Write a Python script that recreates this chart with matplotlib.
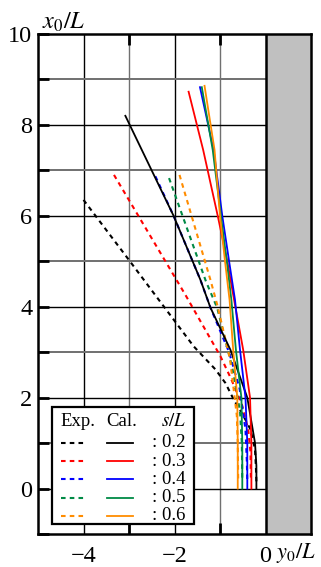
import matplotlib
matplotlib.use("Agg")
import matplotlib.pyplot as plt
from matplotlib.patches import Rectangle

plt.rcParams['font.family'] = ['Liberation Serif', 'DejaVu Serif']
plt.rcParams['mathtext.fontset'] = 'stix'

# ---------------- data ----------------
s_values = [0.2, 0.3, 0.4, 0.5, 0.6]
colors = ['#000000', '#ff0000', '#0000ff', '#008a45', '#ff8c00']

# Experimental (dashed) paths  (y0/L, x0/L)
exp_y02 = [-4.00, -2.98, -1.58, -1.10, -0.88, -0.70, -0.48, -0.33, -0.23, -0.21, -0.20]
exp_x02 = [6.35, 5.00, 3.13, 2.62, 2.32, 1.96, 1.59, 1.30, 0.86, 0.45, 0.15]
exp_y03 = [-3.33, -1.76, -0.99, -0.75, -0.52, -0.38, -0.33, -0.32]
exp_x03 = [6.90, 4.26, 2.91, 2.40, 1.85, 1.30, 0.80, 0.15]
exp_y04 = [-2.42, -2.02, -1.43, -1.21, -0.80, -0.57, -0.44, -0.41, -0.40]
exp_x04 = [6.87, 6.00, 4.59, 3.98, 3.00, 2.20, 1.30, 0.60, 0.15]
exp_y05 = [-2.12, -1.31, -1.06, -0.73, -0.56, -0.52, -0.51]
exp_x05 = [6.83, 4.56, 3.97, 2.66, 1.70, 1.00, 0.15]
exp_y06 = [-1.89, -1.21, -1.06, -0.78, -0.63, -0.61, -0.60]
exp_x06 = [6.90, 4.59, 4.04, 2.85, 1.60, 1.00, 0.15]

# Calculated (solid) paths
cal_y02 = [-3.08, -2.02, -1.43, -1.21, -0.77, -0.40, -0.23, -0.20, -0.20]
cal_x02 = [8.20, 6.00, 4.59, 3.98, 3.05, 2.00, 1.00, 0.50, 0.00]
cal_y03 = [-1.69, -1.37, -1.05, -0.84, -0.69, -0.49, -0.34, -0.31, -0.31]
cal_x03 = [8.73, 7.45, 6.00, 5.00, 4.15, 3.05, 2.00, 1.00, 0.00]
cal_y04 = [-1.44, -1.14, -0.95, -0.80, -0.67, -0.56, -0.44, -0.40, -0.40]
cal_x04 = [8.83, 7.45, 6.00, 5.00, 4.15, 3.05, 2.00, 1.00, 0.00]
cal_y05 = [-1.40, -1.16, -0.98, -0.85, -0.75, -0.65, -0.53, -0.51, -0.51]
cal_x05 = [8.83, 7.45, 6.00, 5.00, 4.15, 3.05, 2.00, 1.00, 0.00]
cal_y06 = [-1.34, -1.12, -1.00, -0.89, -0.79, -0.71, -0.62, -0.61, -0.61]
cal_x06 = [8.86, 7.45, 6.00, 5.00, 4.15, 3.05, 2.00, 1.00, 0.00]

exp_series = [(exp_y02, exp_x02), (exp_y03, exp_x03), (exp_y04, exp_x04),
              (exp_y05, exp_x05), (exp_y06, exp_x06)]
cal_series = [(cal_y02, cal_x02), (cal_y03, cal_x03), (cal_y04, cal_x04),
              (cal_y05, cal_x05), (cal_y06, cal_x06)]

x_ticklabels = ['\u22124', '\u22122', '0']
y_ticklabels = ['0', '2', '4', '6', '8', '10']

# ---------------- figure ----------------
W, H = 321, 567
fig = plt.figure(figsize=(W / 100, H / 100), dpi=100)
ax = fig.add_axes([38 / W, (H - 534) / H, 273 / W, 500 / H])
ax.set_xlim(-5, 1)
ax.set_ylim(-1, 10)

# grid
for v in range(-4, 0):
    ax.axvline(v, color='#000000' if v % 2 == 0 else '#707070', lw=1.0, zorder=1)
for v in range(0, 10):
    ax.axhline(v, color='#000000' if v % 2 == 0 else '#707070',
               lw=1.0 if v % 2 == 0 else 1.4, zorder=1)

# wall
ax.add_patch(Rectangle((0, -1), 1, 11, facecolor='#c0c0c0', edgecolor='none', zorder=2))
ax.axvline(0, color='black', lw=1.8, zorder=3)

dash = (0, (2.2, 2.0))
for (xs, ys), c in zip(exp_series, colors):
    ax.plot(xs, ys, color=c, lw=1.5, linestyle=dash, zorder=4)
for (xs, ys), c in zip(cal_series, colors):
    ax.plot(xs, ys, color=c, lw=1.3, zorder=5)

for sp in ax.spines.values():
    sp.set_linewidth(1.8)
    sp.set_zorder(6)

ax.set_xticks([-4, -2, 0])
ax.set_xticklabels(x_ticklabels)
ax.set_xticks([-4, -3, -2, -1], minor=True)
ax.set_yticks([0, 2, 4, 6, 8, 10])
ax.set_yticklabels(y_ticklabels)
ax.set_yticks(range(-1, 11), minor=True)
ax.tick_params(axis='both', which='both', direction='in', labelsize=17.5,
               width=2.0, length=8, color='black')
ax.tick_params(axis='x', which='both', top=True, bottom=True, pad=9)
ax.tick_params(axis='y', which='both', left=True, right=False, pad=4)
ax.tick_params(axis='x', which='major', length=0)

# axis labels
fig.text(42 / W, 1 - 22 / H, r'$x_0/L$', fontsize=17.5, ha='left', va='center')
fig.text(276 / W, 1 - 553 / H, r'$y_0/L$', fontsize=16, ha='left', va='center')

# ---------------- legend (manual) ----------------
def ax_pt(px, py):
    return (px - 38) / 273, (534 - py) / 500

lx0, ly0 = ax_pt(51.7, 524)
lx1, ly1 = ax_pt(194, 407.3)
ax.add_patch(Rectangle((lx0, ly0), lx1 - lx0, ly1 - ly0, transform=ax.transAxes,
                       facecolor='white', edgecolor='black', lw=1.6, zorder=8))
fs_leg = 13.5
hx, hy = ax_pt(60, 421.7)
ax.text(hx, hy, 'Exp.', transform=ax.transAxes, fontsize=fs_leg, ha='left', va='center', zorder=9)
cx, _ = ax_pt(106, 421.7)
ax.text(cx, hy, 'Cal.', transform=ax.transAxes, fontsize=fs_leg, ha='left', va='center', zorder=9)
sx, _ = ax_pt(186, 421.7)
ax.text(sx, hy, r'$s/L$', transform=ax.transAxes, fontsize=fs_leg, ha='right', va='center', zorder=9)

row_py = [442.7, 461.0, 479.3, 497.7, 515.7]
d0, _ = ax_pt(61, 0)
d1, _ = ax_pt(84, 0)
s0, _ = ax_pt(106.7, 0)
s1, _ = ax_pt(133.3, 0)
tx, _ = ax_pt(152, 0)
for s, c, py in zip(s_values, colors, row_py):
    _, yy = ax_pt(0, py)
    ax.plot([d0, d1], [yy, yy], transform=ax.transAxes, color=c, lw=1.5,
            linestyle=dash, zorder=9)
    ax.plot([s0, s1], [yy, yy], transform=ax.transAxes, color=c, lw=1.3, zorder=9)
    ax.text(tx, yy, f': {s}', transform=ax.transAxes, fontsize=fs_leg,
            ha='left', va='center', zorder=9)

fig.savefig('out.png', dpi=100)
